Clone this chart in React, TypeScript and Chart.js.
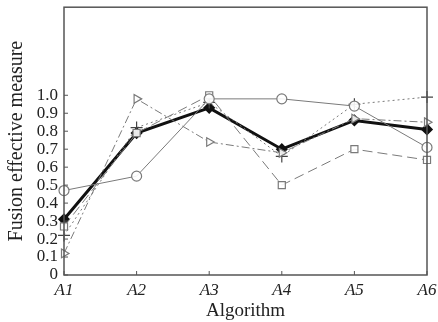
import React, { useEffect, useRef } from "react";
import { Chart, registerables } from "chart.js";

Chart.register(...registerables);

const categories = ["A1", "A2", "A3", "A4", "A5", "A6"];
const circleSeries = [0.47, 0.55, 0.98, 0.98, 0.94, 0.71];
const squareSeries = [0.27, 0.79, 1.0, 0.5, 0.7, 0.64];
const triangleSeries = [0.12, 0.98, 0.74, 0.68, 0.87, 0.85];
const plusSeries = [0.22, 0.82, 0.96, 0.66, 0.95, 0.99];
const boldSeries = [0.31, 0.79, 0.93, 0.7, 0.86, 0.81];
const yTickMax = 1.0;

const FONT = "'Liberation Serif', 'DejaVu Serif', serif";

const frame = {
  id: "frame",
  afterDraw(chart: any) {
    const { ctx, chartArea } = chart;
    ctx.save();
    ctx.strokeStyle = "#555";
    ctx.lineWidth = 1.5;
    ctx.strokeRect(chartArea.left, chartArea.top, chartArea.right - chartArea.left, chartArea.bottom - chartArea.top);
    const y = chart.scales.y;
    ctx.lineWidth = 1;
    for (let v = 0; v <= yTickMax + 1e-9; v += 0.1) {
      const py = y.getPixelForValue(v);
      ctx.beginPath();
      ctx.moveTo(chartArea.left, py);
      ctx.lineTo(chartArea.left + 4, py);
      ctx.stroke();
    }
    const x = chart.scales.x;
    categories.forEach((_, i) => {
      const px = x.getPixelForValue(i);
      ctx.beginPath();
      ctx.moveTo(px, chartArea.bottom);
      ctx.lineTo(px, chartArea.bottom - 4);
      ctx.stroke();
    });
    ctx.restore();
  },
};

export default function App() {
  const ref = useRef<HTMLCanvasElement>(null);
  useEffect(() => {
    const gray = "#7a7a7a";
    const mk = (label: string, data: number[], style: any, dash: number[], extra: any = {}) => ({
      label,
      data,
      borderColor: gray,
      borderWidth: 1,
      borderDash: dash,
      pointStyle: style,
      pointRadius: 5,
      pointBorderColor: gray,
      pointBackgroundColor: "rgba(255,255,255,0.9)",
      pointBorderWidth: 1.2,
      tension: 0,
      ...extra,
    });
    const chart = new Chart(ref.current!, {
      type: "line",
      data: {
        labels: categories,
        datasets: [
          mk("circle", circleSeries, "circle", []),
          mk("square", squareSeries, "rect", [10, 5]),
          mk("triangle", triangleSeries, "triangle", [8, 3, 2, 3], { pointRotation: 90 }),
          mk("plus", plusSeries, "cross", [2, 3], { pointBorderColor: "#444", pointRadius: 6 }),
          {
            label: "bold",
            data: boldSeries,
            borderColor: "#111",
            borderWidth: 3,
            pointStyle: "rectRot",
            pointRadius: 4,
            pointBackgroundColor: "#111",
            pointBorderColor: "#111",
            tension: 0,
          },
        ],
      },
      options: {
        animation: false,
        responsive: false,
        layout: { padding: { top: 7, right: 11, left: 0, bottom: 0 } },
        plugins: { legend: { display: false }, tooltip: { enabled: false } },
        scales: {
          x: {
            type: "category",
            offset: false,
            grid: { display: false, drawTicks: false },
            border: { display: false },
            ticks: { color: "#222", font: { family: FONT, size: 17, style: "italic" }, padding: 5, maxRotation: 0 },
            title: { display: true, text: "Algorithm", color: "#222", font: { family: FONT, size: 19 }, padding: { top: 0, bottom: 0 } },
            afterFit: (s: any) => { s.height = 47; s.paddingLeft = 0; s.paddingRight = 0; },
          },
          y: {
            min: 0,
            max: 1.49,
            grid: { display: false, drawTicks: false },
            border: { display: false },
            ticks: {
              stepSize: 0.1,
              autoSkip: false,
              color: "#222",
              padding: 6,
              font: { family: FONT, size: 17 },
              callback: (v: any) => {
                const n = Number(v);
                if (n > yTickMax + 1e-6) return "";
                return n === 0 ? "0" : n.toFixed(1);
              },
            },
            title: { display: true, text: "Fusion effective measure", color: "#222", font: { family: FONT, size: 20 }, padding: { top: 5, bottom: 0 } },
            afterFit: (s: any) => { s.width = 64; s.paddingTop = 0; s.paddingBottom = 0; },
          },
        },
      },
      plugins: [frame],
    });
    return () => chart.destroy();
  }, []);
  return (
    <div style={{ position: "fixed", left: 0, top: 0, width: 438, height: 322, background: "#fff" }}>
      <canvas ref={ref} width={438} height={322} style={{ display: "block" }} />
    </div>
  );
}
